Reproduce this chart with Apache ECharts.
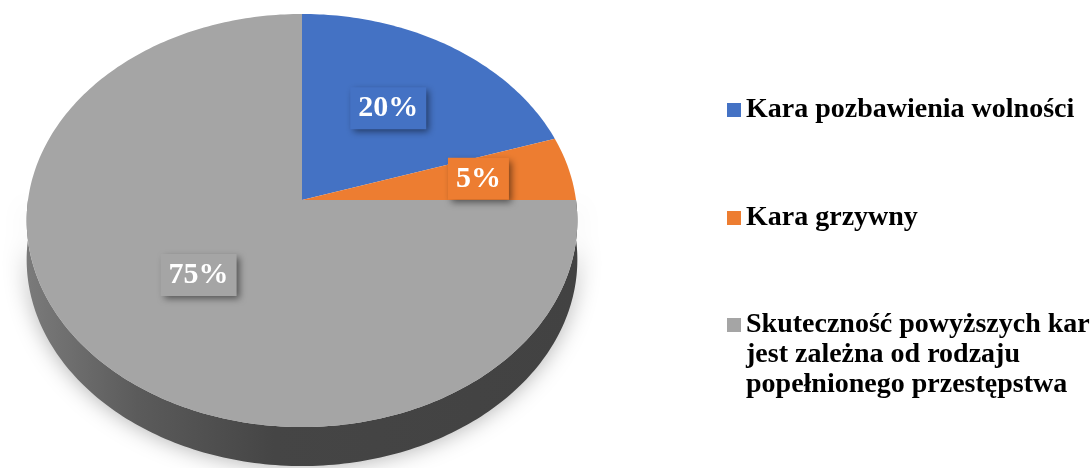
<!DOCTYPE html>
<html><head><meta charset="utf-8">
<script src="https://cdn.jsdelivr.net/npm/echarts@6/dist/echarts.min.js"></script>
<style>html,body{margin:0;padding:0;background:#fff}#c{width:1092px;height:468px}</style>
</head><body><div id="c"></div>
<script>
const categories = [
  'Kara pozbawienia wolności',
  'Kara grzywny',
  'Skuteczność powyższych kar\njest zależna od rodzaju\npopełnionego przestępstwa'
];
const values = [20, 5, 75];
const colors = ['#4472C4', '#ED7D31', '#A5A5A5'];

const total = values.reduce((a, b) => a + b, 0);
const geo = { cx: 302, cy: 200, R: 274, Ry: 204.5, k: 0.0993, h: 39 };
const labelFrac = [0.58, 0.67, 0.50];
const legendTops = [95, 203, 250];

function shade(hex, f) {
  const n = parseInt(hex.slice(1), 16);
  const r = Math.round(((n >> 16) & 255) * f), g = Math.round(((n >> 8) & 255) * f), b = Math.round((n & 255) * f);
  return 'rgb(' + r + ',' + g + ',' + b + ')';
}
function proj(f, deg) {
  const t = deg * Math.PI / 180;
  const s = Math.sin(t), c = Math.cos(t);
  const d = 1 + geo.k * f * s;
  return [geo.cx + geo.R * f * c / d, geo.cy - geo.Ry * f * s / d];
}
function arc(a0, a1, f) {
  const pts = [];
  const n = Math.max(2, Math.ceil(Math.abs(a1 - a0)));
  for (let j = 0; j <= n; j++) pts.push(proj(f, a0 + (a1 - a0) * j / n));
  return pts;
}
function renderSlice(i) {
  return function (params, api) {
    const v = api.value(0);
    let cum = 0;
    for (let j = 0; j < i; j++) cum += values[j];
    const a0 = 90 - 360 * cum / total;
    const a1 = 90 - 360 * (cum + v) / total;
    const col = colors[i];
    const children = [];
    for (let m = -2; m <= 1; m++) {
      const lo = Math.max(a1, -180 + 360 * m), hi = Math.min(a0, 360 * m);
      if (hi > lo) {
        const top = arc(lo, hi, 1);
        const bottom = top.slice().reverse().map(p => [p[0], p[1] + geo.h]);
        children.push({
          type: 'polygon',
          shape: { points: top.concat(bottom) },
          style: {
            fill: {
              type: 'linear', x: geo.cx - geo.R, y: 0, x2: geo.cx + geo.R, y2: 0, global: true,
              colorStops: [
                { offset: 0, color: shade(col, 0.74) },
                { offset: 0.2, color: shade(col, 0.55) },
                { offset: 0.45, color: shade(col, 0.42) },
                { offset: 1, color: shade(col, 0.4) }
              ]
            },
            shadowBlur: 22,
            shadowColor: 'rgba(0,0,0,0.32)'
          }
        });
      }
    }
    children.push({
      type: 'polygon',
      shape: { points: [[geo.cx, geo.cy]].concat(arc(a0, a1, 1)) },
      style: { fill: col }
    });
    const p = proj(labelFrac[i], (a0 + a1) / 2);
    children.push({
      type: 'text',
      x: p[0] - 3, y: p[1],
      style: {
        text: Math.round(v / total * 100) + '%',
        fill: '#ffffff',
        fontSize: 30, fontWeight: 'bold', fontFamily: '"Liberation Serif", serif',
        align: 'center', verticalAlign: 'middle',
        backgroundColor: col,
        padding: [6, 8, 6, 8],
        shadowBlur: 7, shadowOffsetX: 3, shadowOffsetY: 3,
        shadowColor: 'rgba(0,0,0,0.5)'
      }
    });
    return { type: 'group', children };
  };
}

const chart = echarts.init(document.getElementById('c'), null, { renderer: 'canvas' });
chart.setOption({
  animation: false,
  legend: categories.map((name, i) => ({
    data: [name],
    orient: 'vertical',
    left: 727,
    top: legendTops[i],
    padding: 0,
    icon: 'rect',
    itemWidth: 14,
    itemHeight: 14,
    selectedMode: false,
    formatter: i === 2 ? (n => '\n\n' + n) : '{name}',
    textStyle: {
      color: '#000',
      fontFamily: '"Liberation Serif", serif',
      fontWeight: 'bold',
      fontSize: 28,
      lineHeight: 30
    }
  })),
  series: categories.map((name, i) => ({
    type: 'custom',
    name: name,
    coordinateSystem: 'none',
    z: i === 2 ? 1 : 2,
    itemStyle: { color: colors[i] },
    data: [values[i]],
    renderItem: renderSlice(i)
  }))
});
</script>
</body></html>
